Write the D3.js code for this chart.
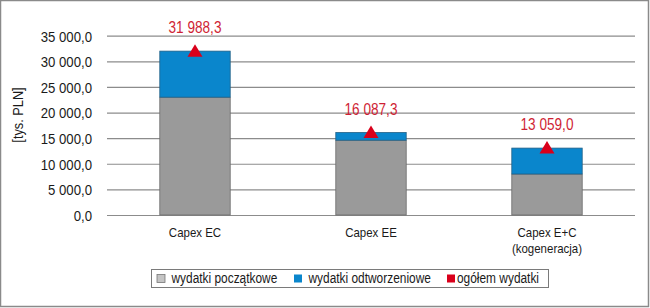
<!DOCTYPE html>
<html lang="pl">
<head>
<meta charset="UTF-8">
<title>Capex</title>
<script src="https://cdn.jsdelivr.net/npm/d3@7"></script>
<style>
  body { margin: 0; background: #fff; }
  text { font-family: "Liberation Sans", Arial, sans-serif; }
</style>
</head>
<body>
<script>
// data
var categories = ["Capex EC", "Capex EE", "Capex E+C|(kogeneracja)"];
var initialSpend = [23000, 14600, 8000];        // wydatki początkowe
var replacementSpend = [8988.3, 1487.3, 5059.0]; // wydatki odtworzeniowe
var totalSpend = [31988.3, 16087.3, 13059.0];    // ogółem wydatki
var yTicks = [0, 5000, 10000, 15000, 20000, 25000, 30000, 35000];
var legendLabels = ["wydatki początkowe", "wydatki odtworzeniowe", "ogółem wydatki"];
var colors = ["#9a9a9a", "#0a86cc", "#d9001b"];

var W = 650, H = 308;
var SQUEEZE = 0.85; // condensed look of the original font

var svg = d3.select("body").append("svg").attr("width", W).attr("height", H);

// squeeze text horizontally
function squeeze(sel) {
  sel.each(function() {
    var len = this.getComputedTextLength();
    d3.select(this).attr("textLength", len * SQUEEZE).attr("lengthAdjust", "spacingAndGlyphs");
  });
}

// outer frame
svg.append("rect").attr("x", 0.5).attr("y", 0.5).attr("width", W - 2).attr("height", H - 2)
  .attr("fill", "#fff").attr("stroke", "#8a8a8a").attr("stroke-width", 1.5);

var x = d3.scaleBand().domain(categories).range([107, 635]).paddingInner(0.6).paddingOuter(0.3);
var y = d3.scaleLinear().domain([0, 35000]).range([215, 35.7]);

var fmt = function(v) {
  return d3.format(",.1f")(v).replace(/,/g, " ").replace(".", ",");
};

// grid + y labels
var yAxis = svg.append("g").attr("transform", "translate(107,0)")
  .call(d3.axisLeft(y).tickValues(yTicks).tickSize(-528).tickPadding(15).tickFormat(fmt));
yAxis.select(".domain").remove();
yAxis.selectAll(".tick line").attr("stroke", "#8c8c8c").attr("stroke-width", 1.2);
yAxis.selectAll(".tick text").attr("font-size", 15.5).attr("fill", "#1a1a1a")
  .attr("font-family", "Liberation Sans, Arial, sans-serif").attr("dy", "0.35em");
squeeze(yAxis.selectAll(".tick text"));

var yTitle = svg.append("text").attr("transform", "translate(23,115) rotate(-90)")
  .attr("text-anchor", "middle").attr("font-size", 15).attr("fill", "#1a1a1a").text("[tys. PLN]");
squeeze(yTitle);

var rows = categories.map(function(c, i) {
  return { cat: c, a: initialSpend[i], b: replacementSpend[i], t: totalSpend[i] };
});

var bars = svg.append("g");
bars.selectAll("rect.init").data(rows).enter().append("rect")
  .attr("x", function(d) { return x(d.cat); })
  .attr("width", x.bandwidth())
  .attr("y", function(d) { return y(d.a); })
  .attr("height", function(d) { return y(0) - y(d.a); })
  .attr("fill", colors[0]).attr("stroke", "#6a6a6a").attr("stroke-width", 0.8);

bars.selectAll("rect.repl").data(rows).enter().append("rect")
  .attr("x", function(d) { return x(d.cat); })
  .attr("width", x.bandwidth())
  .attr("y", function(d) { return y(d.a + d.b); })
  .attr("height", function(d) { return y(d.a) - y(d.a + d.b); })
  .attr("fill", colors[1]).attr("stroke", "#1f5f86").attr("stroke-width", 0.8);

// total markers
svg.selectAll("path.marker").data(rows).enter().append("path")
  .attr("d", "M0,-7L7.5,5.5L-7.5,5.5Z")
  .attr("transform", function(d) {
    return "translate(" + (x(d.cat) + x.bandwidth() / 2) + "," + y(d.t) + ")";
  })
  .attr("fill", colors[2]);

var totals = svg.selectAll("text.total").data(rows).enter().append("text")
  .attr("x", function(d) { return x(d.cat) + x.bandwidth() / 2; })
  .attr("y", function(d) { return y(d.t) - 18; })
  .attr("text-anchor", "middle").attr("font-size", 16).attr("fill", "#cf1f35")
  .text(function(d) { return fmt(d.t); });
squeeze(totals);

// category labels
var catG = svg.append("g");
categories.forEach(function(d) {
  var cx = x(d) + x.bandwidth() / 2;
  d.split("|").forEach(function(p, j) {
    var t = catG.append("text").attr("x", cx).attr("y", 237 + j * 16)
      .attr("text-anchor", "middle").attr("font-size", 13.5).attr("fill", "#1a1a1a").text(p);
    squeeze(t);
  });
});

// legend
var lg = svg.append("g");
lg.append("rect").attr("x", 151.5).attr("y", 269.5).attr("width", 397).attr("height", 18)
  .attr("fill", "#fff").attr("stroke", "#7a7a7a").attr("stroke-width", 1);
var lx = [157, 294, 447];
legendLabels.forEach(function(l, i) {
  lg.append("rect").attr("x", lx[i]).attr("y", 274.5).attr("width", 8).attr("height", 8)
    .attr("fill", i === 0 ? "#c4c4c4" : colors[i]).attr("stroke", i === 0 ? "#777" : "none").attr("stroke-width", 0.8);
  var t = lg.append("text").attr("x", lx[i] + (i === 2 ? 10 : 14.5)).attr("y", 282.5)
    .attr("font-size", 14).attr("fill", "#1a1a1a").text(l);
  squeeze(t);
});
</script>
</body>
</html>
